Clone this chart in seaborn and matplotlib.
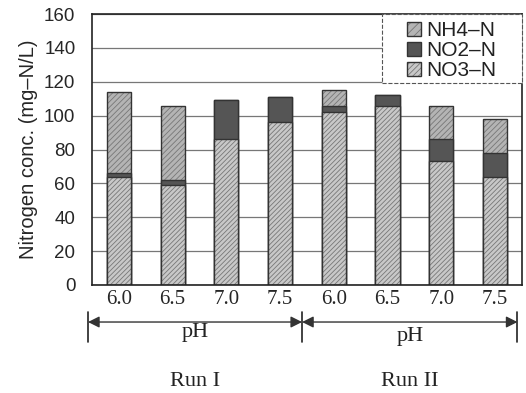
import numpy as np
import pandas as pd
import matplotlib
matplotlib.use("Agg")
import matplotlib.pyplot as plt
import seaborn as sns
from matplotlib.patches import Patch, Rectangle
from matplotlib.colors import to_rgba

ph_labels = ["6.0", "6.5", "7.0", "7.5", "6.0", "6.5", "7.0", "7.5"]
runs = ["Run I", "Run II"]
no3 = [64, 59, 86, 96, 102, 106, 73, 64]
no2 = [2, 3, 23, 15, 4, 6, 13, 14]
nh4 = [48, 44, 0, 0, 9, 0, 20, 20]

sns.set_theme(style="white")
plt.rcParams["font.family"] = ["Liberation Sans", "DejaVu Sans"]
plt.rcParams["hatch.linewidth"] = 0.6

df = pd.DataFrame({"pos": range(len(ph_labels)), "NO3": no3, "NO2": no2, "NH4": nh4})
df["lvl2"] = df["NO3"] + df["NO2"]
df["lvl3"] = df["lvl2"] + df["NH4"]

fig = plt.figure(figsize=(5.26, 3.93), dpi=100)
ax = fig.add_axes([0.175, 0.275, 0.817, 0.689])

col_nh4 = "#b4b4b4"
col_no2 = "#555555"
col_no3 = "#c8c8c8"
hatch_col = to_rgba("#777777")

# stacked bars drawn as cumulative totals, top layer first
sns.barplot(data=df, x="pos", y="lvl3", color=col_nh4, width=0.45, saturation=1,
            edgecolor="#333333", linewidth=1.0, hatch="//////", ax=ax)
sns.barplot(data=df, x="pos", y="lvl2", color=col_no2, width=0.45, saturation=1,
            edgecolor="#333333", linewidth=1.0, ax=ax)
sns.barplot(data=df, x="pos", y="NO3", color=col_no3, width=0.45, saturation=1,
            edgecolor="#333333", linewidth=1.0, hatch="///////", ax=ax)
for p in ax.patches:
    p._hatch_color = hatch_col

ax.set_xlim(-0.5, 7.5)
ax.set_ylim(0, 160)
ax.set_yticks(range(0, 161, 20))
ax.yaxis.grid(True, color="#777777", linewidth=0.9)
ax.set_axisbelow(True)
for s in ax.spines.values():
    s.set_color("#222222")
    s.set_linewidth(1.2)
ax.tick_params(axis="y", labelsize=13.5, length=0, pad=12)
ax.set_ylabel("Nitrogen conc. (mg\u2013N/L)", fontsize=14.5, labelpad=4)
ax.set_xlabel("")
ax.set_xticks(range(len(ph_labels)))
ax.set_xticklabels(ph_labels, family=["Liberation Serif", "DejaVu Serif"], fontsize=15)
ax.tick_params(axis="x", length=0, pad=4)

# legend box (dashed frame) with the entries centred inside
box = Rectangle((0.674, 0.745), 0.326, 0.255, transform=ax.transAxes, facecolor="white",
                edgecolor="#555555", linestyle="--", linewidth=0.8, zorder=4, clip_on=False)
ax.add_patch(box)
handles = [Patch(facecolor=col_nh4, edgecolor="#333333", hatch="////", label="NH4\u2013N"),
           Patch(facecolor=col_no2, edgecolor="#333333", label="NO2\u2013N"),
           Patch(facecolor=col_no3, edgecolor="#333333", hatch="//////", label="NO3\u2013N")]
leg = ax.legend(handles=handles, loc="center", bbox_to_anchor=(0.837, 0.865),
                fontsize=15, handlelength=0.65, handleheight=0.65, handletextpad=0.25,
                labelspacing=0.05, borderaxespad=0, frameon=False, borderpad=0)
leg.set_zorder(6)
for h in leg.legend_handles:
    h._hatch_color = hatch_col
for t in leg.get_texts():
    t.set_color("#222222")

# pH range arrows under each run
trans = ax.get_xaxis_transform()
serif = ["Liberation Serif", "DejaVu Serif"]
spans = [(-0.575, 3.41), (3.41, 7.42)]
for (x0, x1), run, ypH in zip(spans, runs, [-0.177, -0.19]):
    ax.annotate("", xy=(x0, -0.137), xytext=(x1, -0.137), xycoords=trans, textcoords=trans,
                arrowprops=dict(arrowstyle="<|-|>", color="#333333", lw=1.0,
                                mutation_scale=17, shrinkA=0, shrinkB=0),
                annotation_clip=False)
    mid = (x0 + x1) / 2
    ax.text(mid, ypH, "pH", transform=trans, ha="center", va="center",
            family=serif, fontsize=16, color="#222222")
    ax.text(mid, -0.355, run, transform=trans, ha="center", va="center",
            family=serif, fontsize=16, color="#222222")
for xv in [-0.575, 3.41, 7.42]:
    ax.plot([xv, xv], [-0.10, -0.21], transform=trans, color="#222222", lw=1.2,
            clip_on=False)

fig.savefig("out.png", dpi=100)
